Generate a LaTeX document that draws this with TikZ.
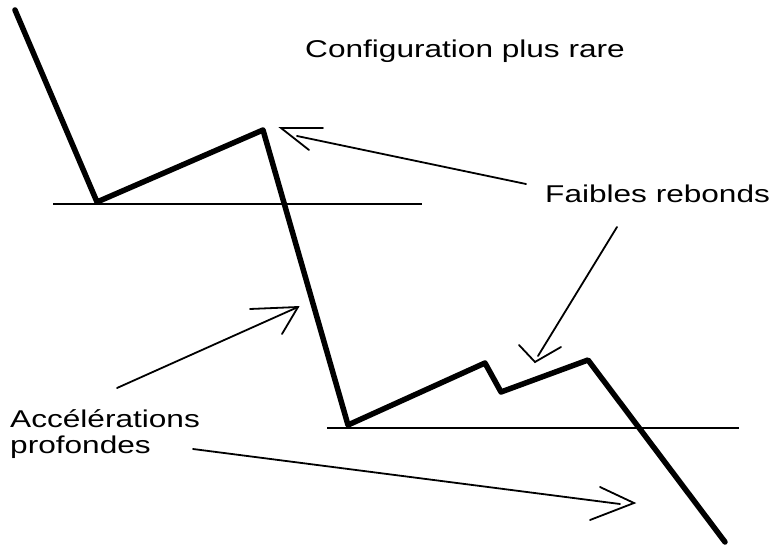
\documentclass[tikz,border=0pt]{standalone}
\usepackage{fontspec}
\newfontfamily\widesans[FakeStretch=1.3]{Liberation Sans}
\begin{document}
\begin{tikzpicture}[x=1pt,y=-1pt,
  price/.style={line width=5.5pt,line join=round,line cap=round},
  level/.style={line width=2pt},
  pointer/.style={line width=1.8pt,line cap=round,line join=miter},
  lbl/.style={font=\widesans\fontsize{24.3}{26}\selectfont,anchor=base west,inner sep=0pt,align=left}]
\useasboundingbox (0,0) rectangle (773,545);
% support levels
\coordinate (l1a) at (53,204); \coordinate (l1b) at (422,204);
\coordinate (l2a) at (327,428); \coordinate (l2b) at (739,428);
\draw[level] (l1a) -- (l1b);
\draw[level] (l2a) -- (l2b);
% price path
\coordinate (p0) at (15,10);
\coordinate (p1) at (97,202);
\coordinate (p2) at (263,130);
\coordinate (p3) at (348,425);
\coordinate (p4) at (485,363);
\coordinate (p5) at (501,392);
\coordinate (p6) at (588,360);
\coordinate (p7) at (725,542);
\draw[price] (p0) -- (p1) -- (p2) -- (p3) -- (p4) -- (p5) -- (p6) -- (p7);
% labels
\node[lbl] (t1) at (305,58) {Configuration plus rare};
\node[lbl] (t2) at (545,203) {Faibles rebonds};
\node[lbl] (t3) at (10,427) {Accélérations};
\node[lbl] (t4) at (10,453) {profondes};
% arrow 1
\coordinate (a1s) at (526,184); \coordinate (a1e) at (297,136);
\coordinate (a1t) at (281,128); \coordinate (a1u) at (323,128); \coordinate (a1v) at (309,150);
\draw[pointer] (a1s) -- (a1e);
\draw[pointer] (a1u) -- (a1t) -- (a1v);
% arrow 2
\coordinate (a2s) at (117,388); \coordinate (a2t) at (298,307);
\coordinate (a2u) at (250,309); \coordinate (a2v) at (282,334);
\draw[pointer] (a2s) -- (a2t);
\draw[pointer] (a2u) -- (a2t) -- (a2v);
% arrow 3
\coordinate (a3s) at (617,227); \coordinate (a3e) at (538,356);
\coordinate (a3t) at (535,362); \coordinate (a3u) at (519,345); \coordinate (a3v) at (561,347);
\draw[pointer] (a3s) -- (a3e);
\draw[pointer] (a3u) -- (a3t) -- (a3v);
% arrow 4
\coordinate (a4s) at (193,449); \coordinate (a4e) at (620,504);
\coordinate (a4t) at (634,503); \coordinate (a4u) at (600,487); \coordinate (a4v) at (590,520);
\draw[pointer] (a4s) -- (a4e);
\draw[pointer] (a4u) -- (a4t) -- (a4v);
\end{tikzpicture}
\end{document}
